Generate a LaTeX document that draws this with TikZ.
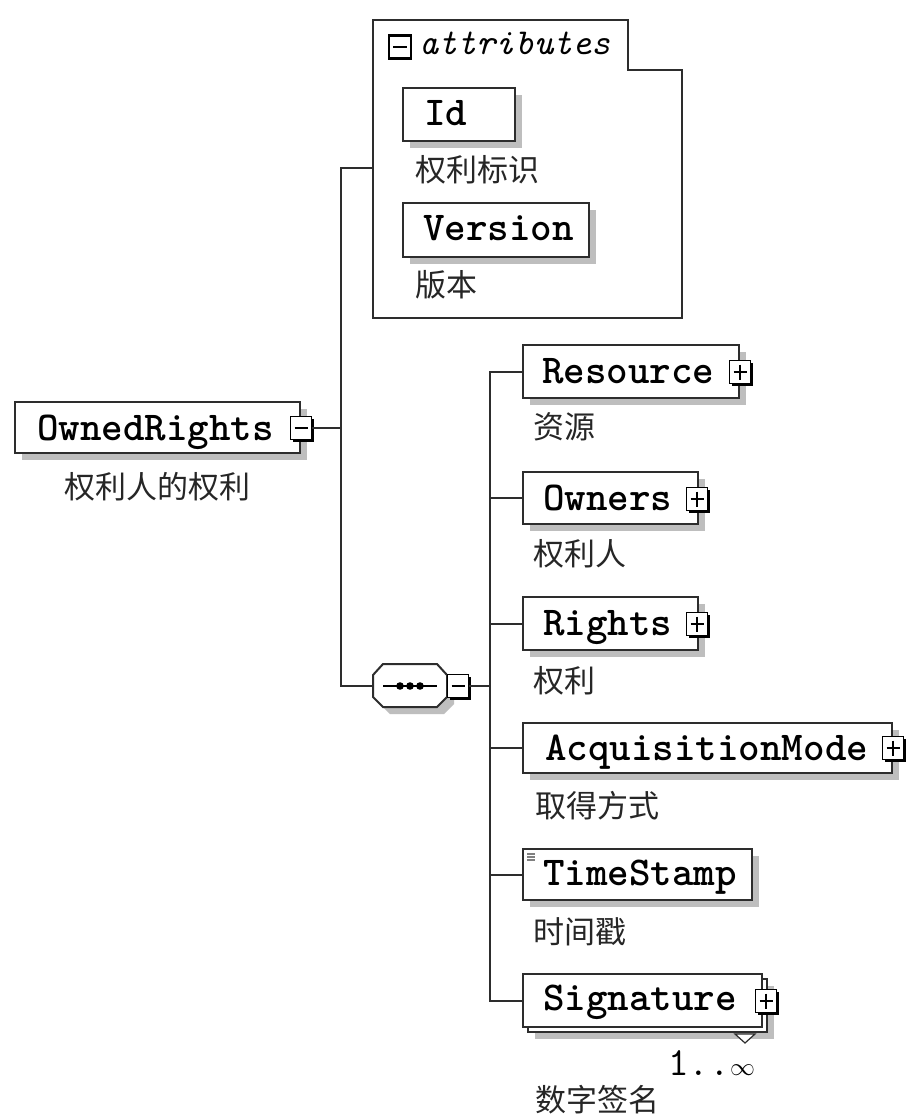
\documentclass[tikz,border=0pt]{standalone}
\usepackage{fontspec}
\newfontfamily\cjk{Noto Sans CJK SC}
\usetikzlibrary{calc}
\definecolor{shadowgray}{RGB}{190,190,190}
\definecolor{linegray}{RGB}{45,45,45}
\newcommand\nmfont{\ttfamily\bfseries\fontsize{41}{41}\selectfont}
\newcommand\lbfont{\cjk\fontsize{31}{31}\selectfont}
\tikzset{
  shd/.style={preaction={fill=shadowgray, transform canvas={shift={(7pt,-7pt)}}}},
  elbox/.style={draw=linegray, line width=2pt, fill=white, inner sep=0pt, outer sep=0pt, anchor=north west, shd},
  elboxplain/.style={draw=linegray, line width=2pt, fill=white, inner sep=0pt, outer sep=0pt, anchor=north west},
  nametext/.style={anchor=base west, inner sep=0pt, font=\nmfont, text=black},
  lbl/.style={anchor=west, inner sep=0pt, font=\lbfont, text=black!85},
  btnbase/.style={draw=black, fill=white, line width=1.6pt, minimum width=21pt, minimum height=23pt, inner sep=0pt, outer sep=0pt,
    preaction={fill=black, transform canvas={shift={(2pt,-2pt)}}}},
  minusbtn/.style={btnbase, path picture={\draw[line width=1.4pt] ([xshift=4pt]path picture bounding box.west) -- ([xshift=-4pt]path picture bounding box.east);}},
  plusbtn/.style={btnbase, path picture={\draw[line width=1.4pt] ([xshift=4pt]path picture bounding box.west) -- ([xshift=-4pt]path picture bounding box.east);
      \draw[line width=1.4pt] ([yshift=-4pt]path picture bounding box.north) -- ([yshift=4pt]path picture bounding box.south);}},
  conn/.style={draw=linegray, line width=2pt},
}
\begin{document}
\begin{tikzpicture}[x=1pt,y=-1pt]
\useasboundingbox[fill=white] (0,0) rectangle (906,1116);

% attributes group
\draw[draw=linegray, line width=2pt, fill=white] (373,20) -- (628,20) -- (628,70) -- (682,70) -- (682,318) -- (373,318) -- cycle;
\coordinate (attr) at (373,168);
\node[draw=black, fill=white, line width=2.2pt, minimum width=22pt, minimum height=23pt, inner sep=0pt,
  path picture={\draw[line width=1.5pt] ([xshift=4pt]path picture bounding box.west) -- ([xshift=-4pt]path picture bounding box.east);}] (attrbtn) at (400,47) {};
\node[anchor=base west, inner sep=0pt, font=\ttfamily\itshape\fontsize{36.5}{36.5}\selectfont] (attrtxt) at (419,55) {attributes};

% sequence compositor
\coordinate (seq) at (373,686);
\fill[shadowgray] (390,671) -- (444,671) -- (454,682) -- (454,704) -- (444,714) -- (390,714) -- (380,704) -- (380,682) -- cycle;
\draw[draw=linegray, line width=2pt, fill=white] (383,664) -- (437,664) -- (447,675) -- (447,697) -- (437,707) -- (383,707) -- (373,697) -- (373,675) -- cycle;
\draw[line width=1.8pt] (383,686) -- (437,686);
\fill (400,686) circle (3.8);
\fill (410,686) circle (3.8);
\fill (420,686) circle (3.8);
\node[minusbtn] (seqbtn) at (458,686) {};

% root element and its connectors
\node[elbox, minimum width=285pt, minimum height=51pt] (own0) at (15,402) {};
\node[minusbtn] (ombtn) at (301,428) {};
\draw[conn] (ombtn.east) -- ++(29,0) coordinate (j1);
\draw[conn] (attr) -| (j1) |- (seq);
\draw[conn] (seqbtn.east) -- ++(21,0) coordinate (j2);

% attribute elements
\node[elbox, minimum width=112pt, minimum height=53pt] (id) at (403,88) {};
\node[nametext] (idt) at (424,125) {Id};
\node[lbl] (idl) at (415,170) {权利标识};
\node[elbox, minimum width=186pt, minimum height=54pt] (ver) at (403,203) {};
\node[nametext] (vert) at (423,240) {Version};
\node[lbl] (verl) at (415,285) {版本};

% root texts
\node[nametext] (ownt) at (37,440) {OwnedRights};
\node[anchor=center, inner sep=0pt, font=\lbfont, text=black!85] (ownl) at (157.5,487) {权利人的权利};

% children
\node[elbox, minimum width=216pt, minimum height=53pt] (res) at (523,345) {};
\node[elbox, minimum width=175pt, minimum height=52pt] (own) at (523,472) {};
\node[elbox, minimum width=175pt, minimum height=53pt] (rig) at (523,597) {};
\node[elbox, minimum width=369pt, minimum height=50pt] (acq) at (523,723) {};
\node[elbox, minimum width=229pt, minimum height=51pt] (ts) at (523,849) {};
\node[elbox, minimum width=239pt, minimum height=53pt] (sigb) at (528,979) {};
\node[elboxplain, minimum width=239pt, minimum height=53pt] (sigf) at (523,974) {};

\draw[conn] (res.west) -| (j2) |- (sigf.west);
\foreach \n in {own,rig,acq,ts} \draw[conn] (\n.west -| j2) -- (\n.west);

\node[nametext] (rest) at (542,383) {Resource};
\node[plusbtn] (resbtn) at (740,372) {};
\node[lbl] (resl) at (533,427) {资源};

\node[nametext] (ownst) at (543,510) {Owners};
\node[plusbtn] (ownbtn) at (697,499) {};
\node[lbl] (ownsl) at (533,554) {权利人};

\node[nametext] (rigt) at (543,635) {Rights};
\node[plusbtn] (rigbtn) at (697,624) {};
\node[lbl] (rigl) at (533,681) {权利};

\node[nametext] (acqt) at (545,760) {AcquisitionMode};
\node[plusbtn] (acqbtn) at (893,748) {};
\node[lbl] (acql) at (535,806) {取得方式};

\node[nametext] (tst) at (543,885) {TimeStamp};
\draw[gray, line width=1.2pt] (527,854) -- (535,854) (527,857) -- (535,857) (527,860) -- (535,860);
\node[lbl] (tsl) at (533,932) {时间戳};

\node[nametext] (sigt) at (543,1010) {Signature};
\node[plusbtn] (sigbtn) at (766,1001) {};
\draw[draw=linegray, fill=white, line width=1.2pt] (735,1034) -- (755,1034) -- (745,1043) -- cycle;
\node[anchor=base west, inner sep=0pt, font=\ttfamily\fontsize{40}{40}\selectfont] (mult) at (668,1075) {1..$\infty$};
\node[lbl] (sigl) at (535,1100) {数字签名};
\end{tikzpicture}
\end{document}
